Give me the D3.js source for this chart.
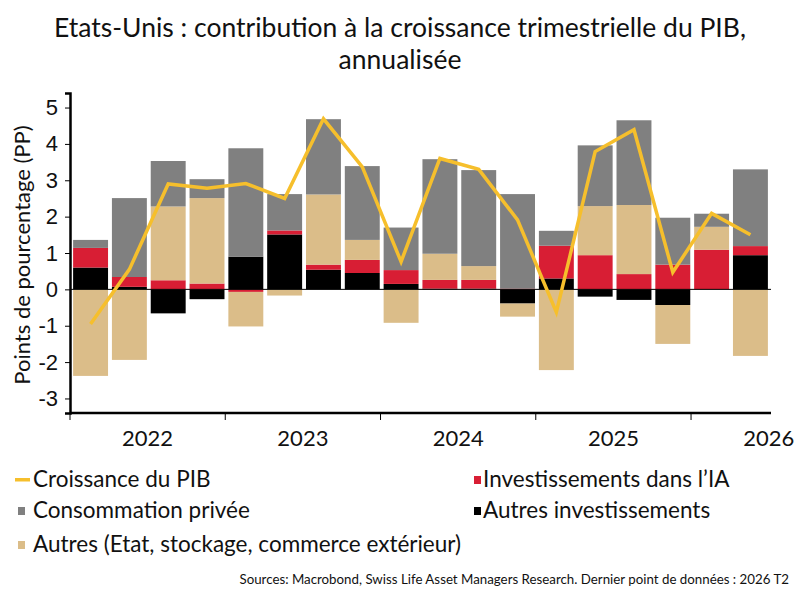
<!DOCTYPE html>
<html>
<head>
  <meta charset="utf-8">
  <title>Etats-Unis : contribution à la croissance du PIB</title>
  <script src="https://cdnjs.cloudflare.com/ajax/libs/d3/7.8.5/d3.min.js"></script>
  <style>
    body { margin: 0; background: #fff; }
    svg { font-family: Lato, "Open Sans", sans-serif; }
    .title { font-size: 26.5px; fill: #111; }
    .tick text { font-size: 22px; fill: #111; }
    .legend text { font-size: 22.5px; fill: #111; }
    .source { font-size: 13.3px; fill: #111; }
  </style>
</head>
<body>
  <svg id="chart" width="800" height="600"></svg>
  <script>
    // quarters 2022 T1 .. 2026 T2
    var quarters = ["2022 T1","2022 T2","2022 T3","2022 T4",
                    "2023 T1","2023 T2","2023 T3","2023 T4",
                    "2024 T1","2024 T2","2024 T3","2024 T4",
                    "2025 T1","2025 T2","2025 T3","2025 T4",
                    "2026 T1","2026 T2"];
    var years = ["2022","2023","2024","2025","2026"];
    var yTicks = [-3,-2,-1,0,1,2,3,4,5];

    var autresInvest = [0.60, 0.07,-0.66,-0.27, 0.90, 1.51, 0.54, 0.45, 0.15, 0.02, 0.02,-0.39, 0.30,-0.20,-0.29,-0.43, 0.00, 0.94];
    var investIA     = [0.54, 0.27, 0.25, 0.16,-0.07, 0.11, 0.14, 0.36, 0.38, 0.24, 0.24, 0.02, 0.90, 0.94, 0.42, 0.68, 1.09, 0.25];
    var autres       = [-2.38,-1.94, 2.03, 2.35,-0.95,-0.17, 1.93, 0.55,-0.92, 0.72, 0.38,-0.36,-2.22, 1.35, 1.90,-1.07, 0.63,-1.83];
    var conso        = [0.22, 2.17, 1.25, 0.52, 2.98, 1.00, 2.07, 2.03, 1.17, 2.60, 2.64, 2.60, 0.41, 1.67, 2.33, 1.29, 0.36, 2.11];
    var pib          = [-0.95, 0.55, 2.90, 2.78, 2.91, 2.50, 4.69, 3.37, 0.76, 3.60, 3.30, 1.91,-0.63, 3.79, 4.39, 0.47, 2.09, 1.50];

    var keys = ["autresInvest","investIA","autres","conso"];
    var colors = {
      autresInvest: "#000000",
      investIA: "#d81e34",
      autres: "#dbbd89",
      conso: "#808080",
      pib: "#f6bf2c"
    };

    var rows = quarters.map(function(q, i) {
      return {q: q, autresInvest: autresInvest[i], investIA: investIA[i],
              autres: autres[i], conso: conso[i], pib: pib[i]};
    });

    var svg = d3.select("#chart");
    var mLeft = 70, mRight = 771, mTop = 93, mBottom = 413;

    var x = d3.scaleBand().domain(quarters).range([mLeft, mRight]).paddingInner(0.1).paddingOuter(0.08);
    var y = d3.scaleLinear().domain([-3.4, 5.4]).range([mBottom, mTop]);

    // title
    svg.append("text").attr("class", "title").attr("x", 400).attr("y", 37)
      .attr("text-anchor", "middle").text("Etats-Unis : contribution à la croissance trimestrielle du PIB,");
    svg.append("text").attr("class", "title").attr("x", 400).attr("y", 69)
      .attr("text-anchor", "middle").text("annualisée");

    // stacked bars
    var series = d3.stack().keys(keys).offset(d3.stackOffsetDiverging)(rows);
    svg.append("g").selectAll("g")
      .data(series)
      .enter().append("g")
      .attr("fill", function(s) { return colors[s.key]; })
      .selectAll("rect")
      .data(function(s) { return s; })
      .enter().append("rect")
      .attr("x", function(d) { return x(d.data.q); })
      .attr("width", x.bandwidth())
      .attr("y", function(d) { return y(Math.max(d[0], d[1])); })
      .attr("height", function(d) { return Math.abs(y(d[0]) - y(d[1])); });

    // zero line
    svg.append("line")
      .attr("x1", mLeft).attr("x2", mRight)
      .attr("y1", y(0)).attr("y2", y(0))
      .attr("stroke", "#000").attr("stroke-width", 1);

    // GDP line
    var line = d3.line()
      .x(function(d) { return x(d.q) + x.bandwidth() / 2; })
      .y(function(d) { return y(d.pib); });
    svg.append("path").datum(rows)
      .attr("d", line)
      .attr("fill", "none")
      .attr("stroke", colors.pib)
      .attr("stroke-width", 3.5)
      .attr("stroke-linejoin", "miter");

    // y axis (plain hyphen for negatives, as in the source)
    var yAxis = svg.append("g").attr("transform", "translate(" + mLeft + ",0)")
      .call(d3.axisLeft(y).tickValues(yTicks).tickSize(5).tickPadding(7)
        .tickFormat(function(d) { return String(d); }));
    yAxis.select(".domain").attr("stroke-width", 2.5);
    yAxis.selectAll(".tick line").attr("stroke-width", 1);

    // x axis: ticks at year starts, labels centred on each year
    var step = x.step();
    var xYear = d3.scaleLinear().domain([0, 5]).range([mLeft, mLeft + step * 4 * 5]);
    var xAxis = svg.append("g").attr("transform", "translate(0," + mBottom + ")");
    xAxis.append("line").attr("x1", mLeft).attr("x2", mRight)
      .attr("stroke", "#000").attr("stroke-width", 2.5);
    xAxis.selectAll(".ytick").data(d3.range(5)).enter().append("line")
      .attr("x1", function(d) { return xYear(d); })
      .attr("x2", function(d) { return xYear(d); })
      .attr("y1", 0).attr("y2", 7)
      .attr("stroke", "#000").attr("stroke-width", 1);
    xAxis.selectAll("text").data(years).enter().append("text")
      .attr("x", function(d, i) { return xYear(i + 0.5); })
      .attr("y", 33)
      .attr("text-anchor", "middle")
      .attr("font-size", 22)
      .attr("fill", "#111")
      .text(function(d) { return d; });

    // y label
    svg.append("text")
      .attr("transform", "translate(30," + ((mTop + mBottom) / 2 + 2) + ") rotate(-90)")
      .attr("text-anchor", "middle")
      .attr("font-size", 22)
      .attr("fill", "#111")
      .text("Points de pourcentage (PP)");

    // legend
    var legendItems = [
      {label: "Croissance du PIB", color: colors.pib, type: "line", x: 15, y: 480, tx: 18},
      {label: "Investissements dans l\u2019IA", color: colors.investIA, type: "box", x: 471, y: 480, tx: 12},
      {label: "Consommation privée", color: colors.conso, type: "box", x: 15, y: 511, tx: 18},
      {label: "Autres investissements", color: colors.autresInvest, type: "box", x: 471, y: 511, tx: 12},
      {label: "Autres (Etat, stockage, commerce extérieur)", color: colors.autres, type: "box", x: 15, y: 545, tx: 18}
    ];
    var lg = svg.append("g").attr("class", "legend").selectAll("g")
      .data(legendItems).enter().append("g")
      .attr("transform", function(d) { return "translate(" + d.x + "," + d.y + ")"; });
    lg.filter(function(d) { return d.type === "line"; }).append("rect")
      .attr("x", 0).attr("y", -2).attr("width", 15).attr("height", 3.5)
      .attr("fill", function(d) { return d.color; });
    lg.filter(function(d) { return d.type === "box"; }).append("rect")
      .attr("x", 3).attr("y", -4).attr("width", 7).attr("height", 8)
      .attr("fill", function(d) { return d.color; });
    lg.append("text").attr("x", function(d) { return d.tx; })
      .attr("y", 7)
      .text(function(d) { return d.label; });

    svg.append("text").attr("class", "source")
      .attr("x", 789).attr("y", 584).attr("text-anchor", "end")
      .text("Sources: Macrobond, Swiss Life Asset Managers Research. Dernier point de données : 2026 T2");
  </script>
</body>
</html>
